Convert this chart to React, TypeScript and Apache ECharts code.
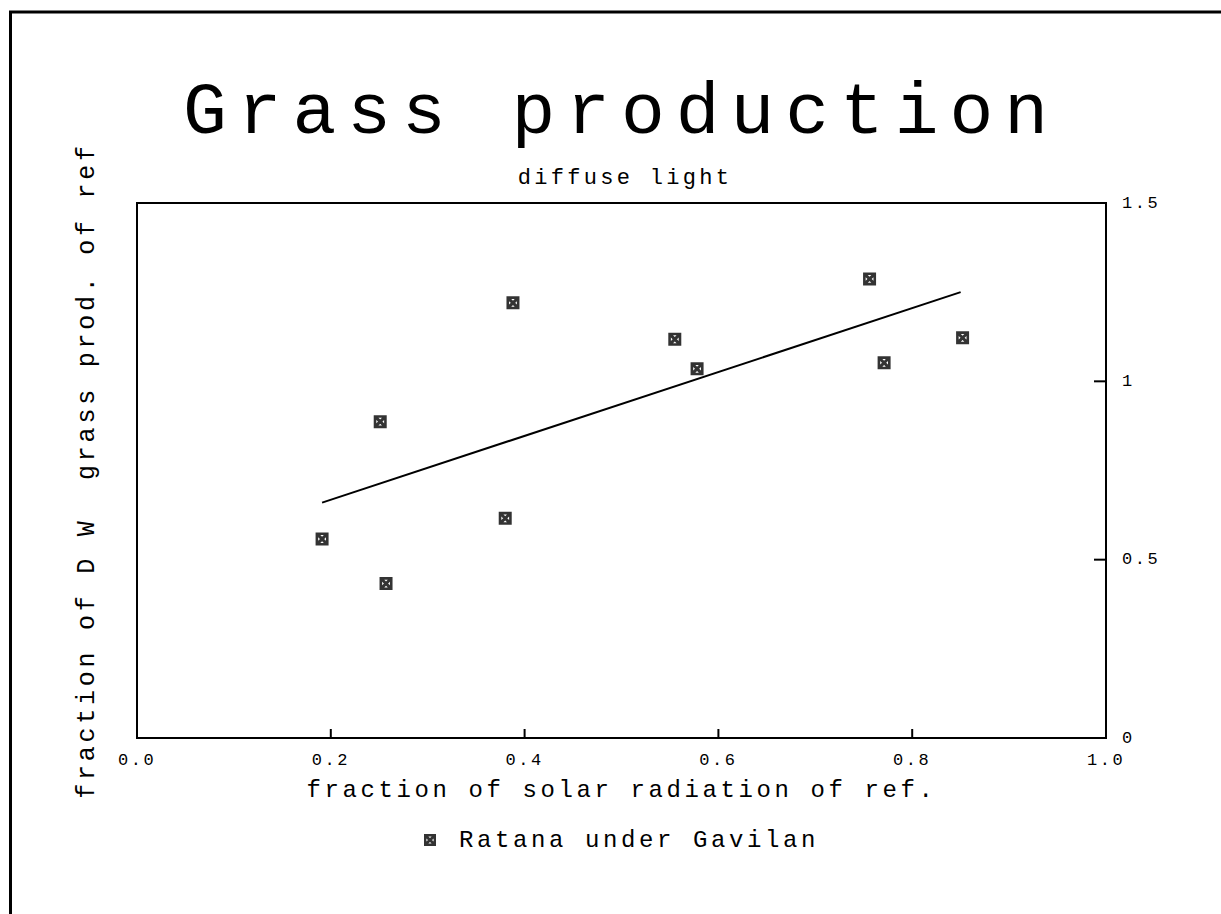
import React, { useEffect, useRef } from "react";
import * as echarts from "echarts";

const seriesName = "Ratana under Gavilan";
const radiation = [0.191, 0.251, 0.257, 0.38, 0.388, 0.555, 0.578, 0.756, 0.771, 0.852];
const grassProd = [0.558, 0.887, 0.433, 0.616, 1.22, 1.118, 1.035, 1.287, 1.052, 1.122];
const fitX = [0.191, 0.85];
const fitY = [0.66, 1.25];
const xTicks = ["0.0", "0.2", "0.4", "0.6", "0.8", "1.0"];
const yTicks = ["0", "0.5", "1", "1.5"];
const xTickMarks = [0.2, 0.4, 0.6, 0.8];
const yTickMarks = [0.5, 1];

const FONT = "'Liberation Mono', 'DejaVu Sans Mono', monospace";
const MARK =
  "path://M0,0 H12 V12 H0 Z M2.4,2.4 V9.6 H9.6 V2.4 Z M2.4,2.4 L4.4,2.4 L9.6,7.6 L9.6,9.6 L7.6,9.6 L2.4,4.4 Z M9.6,2.4 L9.6,4.4 L4.4,9.6 L2.4,9.6 L2.4,7.6 L7.6,2.4 Z";

export default function App() {
  const ref = useRef<HTMLDivElement>(null);
  useEffect(() => {
    if (!ref.current) return;
    const chart = echarts.init(ref.current, undefined, { renderer: "svg" });
    const axisLine = { show: true, onZero: false, lineStyle: { color: "#000", width: 2 } };
    chart.setOption({
      animation: false,
      backgroundColor: "#fff",
      title: [
        {
          text: "Grass production",
          left: 616,
          top: 72,
          textAlign: "center",
          textStyle: { fontFamily: FONT, fontSize: 73, fontWeight: "normal", color: "#000" },
        },
        {
          text: "diffuse light",
          left: 620,
          top: 162,
          textAlign: "center",
          textStyle: { fontFamily: FONT, fontSize: 22, fontWeight: "normal", color: "#000" },
        },
      ],
      graphic: [
        {
          type: "rect",
          shape: { x: 10.5, y: 12, width: 1300, height: 1000 },
          style: { fill: "none", stroke: "#000", lineWidth: 3 },
          silent: true,
        },
      ],
      legend: {
        data: [{ name: seriesName, icon: MARK }],
        left: 424,
        top: 828,
        padding: 0,
        itemWidth: 12,
        itemHeight: 12,
        textStyle: { fontFamily: FONT, fontSize: 24, color: "#000", padding: [0, 0, 0, 18] },
      },
      grid: {
        left: 137,
        top: 203,
        right: 115,
        bottom: 176,
        show: true,
        borderColor: "#000",
        borderWidth: 2,
        backgroundColor: "transparent",
      },
      xAxis: {
        type: "value",
        min: 0,
        max: 1,
        interval: 0.2,
        name: "fraction of solar radiation of ref.",
        nameLocation: "middle",
        nameGap: 40,
        nameTextStyle: { fontFamily: FONT, fontSize: 24, color: "#000" },
        axisLine,
        axisTick: { show: false },
        splitLine: { show: false },
        axisLabel: {
          margin: 14,
          fontFamily: FONT,
          fontSize: 17,
          color: "#000",
          formatter: (v: number) => xTicks[Math.round(v / 0.2)] ?? "",
        },
      },
      yAxis: [
        {
          type: "value",
          position: "right",
          min: 0,
          max: 1.5,
          interval: 0.5,
          axisLine,
          axisTick: { show: false },
          splitLine: { show: false },
          axisLabel: {
            margin: 16,
            fontFamily: FONT,
            fontSize: 17,
            color: "#000",
            formatter: (v: number) => yTicks[Math.round(v / 0.5)] ?? "",
          },
        },
        {
          type: "value",
          position: "left",
          min: 0,
          max: 1.5,
          interval: 0.5,
          name: "fraction of D W  grass prod. of ref",
          nameLocation: "middle",
          nameRotate: 90,
          nameGap: 37,
          nameTextStyle: { fontFamily: FONT, fontSize: 25, color: "#000" },
          axisLine,
          axisTick: { show: false },
          axisLabel: { show: false },
          splitLine: { show: false },
        },
      ],
      series: [
        {
          name: seriesName,
          type: "scatter",
          yAxisIndex: 0,
          symbol: MARK,
          symbolSize: 13,
          itemStyle: { color: "#000" },
          data: radiation.map((x, i) => [x, grassProd[i]]),
        },
        {
          name: "fit",
          type: "line",
          yAxisIndex: 0,
          showSymbol: false,
          symbol: "none",
          lineStyle: { color: "#000", width: 2 },
          data: fitX.map((x, i) => [x, fitY[i]]),
        },
        {
          name: "xTickMarks",
          type: "custom",
          yAxisIndex: 0,
          silent: true,
          clip: false,
          z: 5,
          data: xTickMarks.map((v) => [v, 0]),
          renderItem: (_p: any, api: any) => {
            const pt = api.coord([api.value(0), api.value(1)]);
            return {
              type: "line",
              shape: { x1: pt[0], y1: pt[1], x2: pt[0], y2: pt[1] - 9 },
              style: { stroke: "#000", lineWidth: 2 },
            };
          },
        },
        {
          name: "yTickMarks",
          type: "custom",
          yAxisIndex: 0,
          silent: true,
          clip: false,
          z: 5,
          data: yTickMarks.map((v) => [1, v]),
          renderItem: (_p: any, api: any) => {
            const pt = api.coord([api.value(0), api.value(1)]);
            return {
              type: "line",
              shape: { x1: pt[0], y1: pt[1], x2: pt[0] - 12, y2: pt[1] },
              style: { stroke: "#000", lineWidth: 2 },
            };
          },
        },
      ],
    });
    return () => chart.dispose();
  }, []);
  return (
    <>
      <style>{`#gp-chart text { letter-spacing: 0.15em; }`}</style>
      <div
        id="gp-chart"
        ref={ref}
        style={{ position: "absolute", left: 0, top: 0, width: 1221, height: 914, background: "#fff" }}
      />
    </>
  );
}
